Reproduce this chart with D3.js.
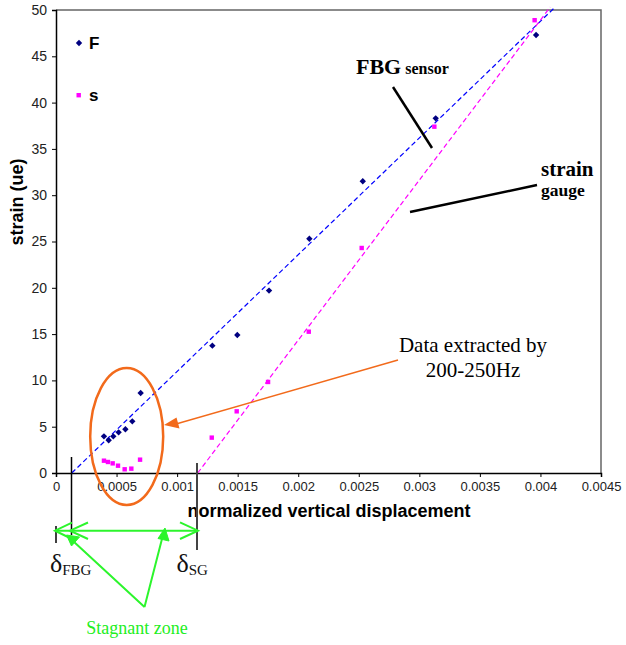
<!DOCTYPE html>
<html>
<head>
<meta charset="utf-8">
<script src="https://cdn.jsdelivr.net/npm/d3@7"></script>
<style>
  body { margin: 0; background: #fff; }
  svg { display: block; }
</style>
</head>
<body>
<div id="chart"></div>
<script>
// series
var fbgX = [0.000396, 0.000435, 0.000473, 0.000517, 0.000573, 0.00063, 0.000699, 0.001291, 0.001497, 0.001759, 0.002092, 0.002533, 0.003135, 0.003964];
var fbgY = [3.96, 3.53, 3.96, 4.39, 4.72, 5.58, 8.64, 13.75, 14.9, 19.7, 25.3, 31.5, 38.3, 47.3];
var sgX = [0.000396, 0.000429, 0.000468, 0.000512, 0.000567, 0.000622, 0.000694, 0.001286, 0.001492, 0.001751, 0.002087, 0.002524, 0.003124, 0.003952];
var sgY = [1.33, 1.19, 1.04, 0.79, 0.4, 0.47, 1.44, 3.82, 6.66, 9.83, 15.26, 24.3, 37.4, 48.9];

// linear trend lines (start / end points)
var fbgTrendX = [0.00013, 0.00412];
var fbgTrendY = [0, 50.3];
var sgTrendX = [0.00117, 0.00408];
var sgTrendY = [0, 50.3];

var xTicks = [0, 0.0005, 0.001, 0.0015, 0.002, 0.0025, 0.003, 0.0035, 0.004, 0.0045];
var yTicks = [0, 5, 10, 15, 20, 25, 30, 35, 40, 45, 50];
var seriesNames = ["F", "s"];

var svgWidth = 626;
var svgHeight = 645;
var plot = { left: 56, right: 601, top: 10, bottom: 473 };

var svg = d3.select("#chart")
  .append("svg")
  .attr("width", svgWidth)
  .attr("height", svgHeight);

var x = d3.scaleLinear().domain([0, 0.0045]).range([plot.left, plot.right]);
var y = d3.scaleLinear().domain([0, 50]).range([plot.bottom, plot.top]);

var sans = "'Liberation Sans', Arial, sans-serif";
var serif = "'Liberation Serif', 'Times New Roman', serif";

// top / right frame of the plot area
svg.append("path")
  .attr("d", `M${plot.left},${plot.top}H${plot.right}V${plot.bottom}`)
  .attr("fill", "none")
  .attr("stroke", "#666")
  .attr("stroke-width", 1.5);

// axes
var xAxis = svg.append("g")
  .attr("transform", `translate(0, ${plot.bottom})`)
  .call(d3.axisBottom(x).tickValues(xTicks).tickSize(4).tickPadding(5)
    .tickFormat(d => d === 0 ? "0" : String(+d.toFixed(4))));

var yAxis = svg.append("g")
  .attr("transform", `translate(${plot.left}, 0)`)
  .call(d3.axisLeft(y).tickValues(yTicks).tickSize(4).tickPadding(5));

[xAxis, yAxis].forEach(function(g) {
  g.select(".domain").attr("stroke", "#000").attr("stroke-width", 1.5);
  g.selectAll(".tick line").attr("stroke", "#000").attr("stroke-width", 1);
  g.selectAll(".tick text").attr("fill", "#222");
});
xAxis.selectAll(".tick text").style("font", `13px ${sans}`);
yAxis.selectAll(".tick text").style("font", `14px ${sans}`);

// axis titles
svg.append("text")
  .attr("x", 329).attr("y", 517)
  .attr("text-anchor", "middle")
  .style("font", `bold 18px ${sans}`)
  .text("normalized vertical displacement");

svg.append("text")
  .attr("transform", "translate(23, 202) rotate(-90)")
  .attr("text-anchor", "middle")
  .style("font", `bold 18px ${sans}`)
  .text("strain (ue)");

// trend lines
var trendLine = d3.line().x(d => x(d[0])).y(d => y(d[1]));
svg.append("path")
  .attr("d", trendLine(d3.zip(fbgTrendX, fbgTrendY)))
  .attr("stroke", "#0000ff").attr("stroke-width", 1.2)
  .attr("stroke-dasharray", "5,3").attr("fill", "none");
svg.append("path")
  .attr("d", trendLine(d3.zip(sgTrendX, sgTrendY)))
  .attr("stroke", "#ff00ff").attr("stroke-width", 1.2)
  .attr("stroke-dasharray", "5,3").attr("fill", "none");

// markers
var diamond = d3.symbol().type(d3.symbolDiamond2).size(26);
svg.append("g").selectAll("path")
  .data(d3.zip(fbgX, fbgY))
  .enter()
  .append("path")
  .attr("d", diamond)
  .attr("transform", d => `translate(${x(d[0])}, ${y(d[1])})`)
  .attr("fill", "#000080");

svg.append("g").selectAll("rect")
  .data(d3.zip(sgX, sgY))
  .enter()
  .append("rect")
  .attr("x", d => x(d[0]) - 2.2)
  .attr("y", d => y(d[1]) - 2.2)
  .attr("width", 4.4).attr("height", 4.4)
  .attr("fill", "#ff00ff");

// legend
svg.append("path")
  .attr("d", diamond)
  .attr("transform", "translate(79, 43)")
  .attr("fill", "#000080");
svg.append("rect")
  .attr("x", 76.5).attr("y", 93).attr("width", 4.4).attr("height", 4.4)
  .attr("fill", "#ff00ff");
svg.selectAll("text.legend")
  .data(seriesNames)
  .enter()
  .append("text")
  .attr("class", "legend")
  .attr("x", 89)
  .attr("y", (d, i) => 49 + i * 52)
  .style("font", `bold 17px ${sans}`)
  .text(d => d);

// FBG sensor label
var fbgLabel = svg.append("text")
  .attr("x", 356).attr("y", 74)
  .style("font-family", serif).style("font-weight", "bold");
fbgLabel.append("tspan").style("font-size", "22px").text("FBG");
fbgLabel.append("tspan").style("font-size", "16px").text(" sensor");
svg.append("line")
  .attr("x1", 393).attr("y1", 87).attr("x2", 432).attr("y2", 148)
  .attr("stroke", "#000").attr("stroke-width", 2.5);

// strain gauge label
svg.append("text")
  .attr("x", 541).attr("y", 176)
  .style("font", `bold 21px ${serif}`)
  .text("strain");
svg.append("text")
  .attr("x", 541).attr("y", 196)
  .style("font", `bold 17.5px ${serif}`)
  .text("gauge");
svg.append("line")
  .attr("x1", 410).attr("y1", 212).attr("x2", 537).attr("y2", 185)
  .attr("stroke", "#000").attr("stroke-width", 2.5);

// orange annotation
var orange = "#f26a1b";
svg.append("ellipse")
  .attr("cx", 126.7).attr("cy", 436.5).attr("rx", 36.5).attr("ry", 68.5)
  .attr("fill", "none").attr("stroke", orange).attr("stroke-width", 2.5);
svg.append("line")
  .attr("x1", 398).attr("y1", 360).attr("x2", 176).attr("y2", 424)
  .attr("stroke", orange).attr("stroke-width", 1.5);
svg.append("path")
  .attr("d", "M164,425L176.5,417.5L179.5,428.5Z")
  .attr("fill", orange);
svg.append("text")
  .attr("x", 473).attr("y", 352)
  .attr("text-anchor", "middle")
  .style("font", `21px ${serif}`)
  .text("Data extracted by");
svg.append("text")
  .attr("x", 473).attr("y", 377)
  .attr("text-anchor", "middle")
  .style("font", `21px ${serif}`)
  .text("200-250Hz");

// stagnant zone markers
svg.append("line")
  .attr("x1", 71.5).attr("y1", 457).attr("x2", 71.5).attr("y2", 535)
  .attr("stroke", "#000").attr("stroke-width", 1.5);
svg.append("line")
  .attr("x1", 56).attr("y1", 526).attr("x2", 56).attr("y2", 543)
  .attr("stroke", "#000").attr("stroke-width", 1.5);
svg.append("line")
  .attr("x1", 197).attr("y1", 463).attr("x2", 197).attr("y2", 550)
  .attr("stroke", "#444").attr("stroke-width", 2);

var green = "#2cf52c";
svg.append("line")
  .attr("x1", 55).attr("y1", 530.7).attr("x2", 198).attr("y2", 530.7)
  .attr("stroke", green).attr("stroke-width", 2);
svg.append("path")
  .attr("d", "M72,522.7L55,530.7L72,539M88,522.5L70,530.7L88,539M180,522.3L198,530.7L180,539")
  .attr("fill", "none").attr("stroke", green).attr("stroke-width", 2);
svg.append("path")
  .attr("d", "M144.5,607L73,541M144.5,607L163,535")
  .attr("fill", "none").attr("stroke", green).attr("stroke-width", 2);
svg.append("path")
  .attr("d", "M66.5,535L79.5,537L71.5,546Z M165,528L169,541L158,538.5Z")
  .attr("fill", green).attr("stroke", green).attr("stroke-width", 1);

var deltas = [
  { x: 50, sub: "FBG" },
  { x: 176.5, sub: "SG" }
];
deltas.forEach(function(d) {
  var t = svg.append("text")
    .attr("x", d.x).attr("y", 572)
    .style("font-family", serif).attr("fill", "#111");
  t.append("tspan").style("font-size", "26px").text("δ");
  t.append("tspan").style("font-size", "15px").attr("dy", 3).text(d.sub);
});

svg.append("text")
  .attr("x", 137).attr("y", 634)
  .attr("text-anchor", "middle")
  .attr("fill", "#22ee22")
  .style("font", `18px ${serif}`)
  .text("Stagnant zone");
</script>
</body>
</html>
